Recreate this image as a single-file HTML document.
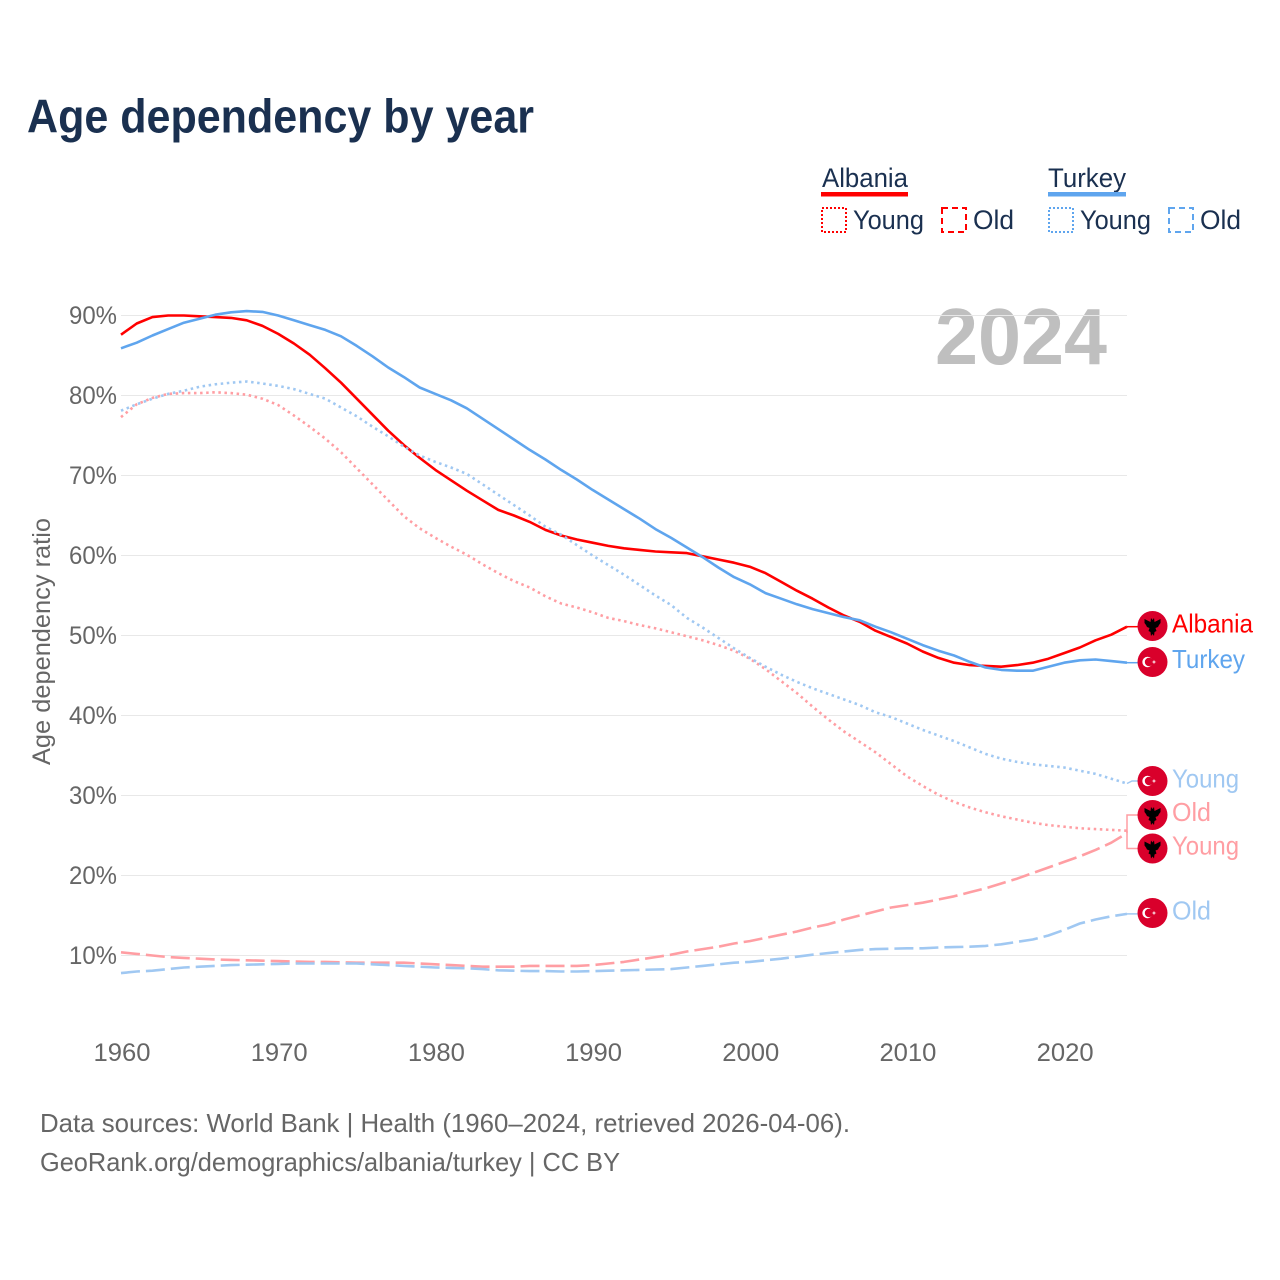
<!DOCTYPE html>
<html lang="en">
<head>
<meta charset="utf-8">
<title>Age dependency by year</title>
<style>
html,body{margin:0;padding:0;background:#fff;width:1280px;height:1280px;overflow:hidden}
svg{display:block}
text{font-family:"Liberation Sans",sans-serif}
</style>
</head>
<body>
<svg id="chart" xmlns="http://www.w3.org/2000/svg" width="1280" height="1280" viewBox="0 0 1280 1280">
  <rect width="1280" height="1280" fill="#fff"/>
  <text x="27" y="132.5" font-size="47" font-weight="700" fill="#1a3050" textLength="507" lengthAdjust="spacingAndGlyphs">Age dependency by year</text>

  <g font-size="27" fill="#1a3050">
    <text x="822" y="187" textLength="86" lengthAdjust="spacingAndGlyphs">Albania</text>
    <rect x="821" y="192" width="87" height="4.5" fill="#ff0000"/>
    <rect x="822" y="208" width="24" height="24" fill="none" stroke="#ff0000" stroke-width="2" stroke-dasharray="2 2"/>
    <text x="853" y="229" textLength="71" lengthAdjust="spacingAndGlyphs">Young</text>
    <rect x="942" y="208" width="24" height="24" fill="none" stroke="#ff0000" stroke-width="2" stroke-dasharray="6 4"/>
    <text x="973" y="229" textLength="41" lengthAdjust="spacingAndGlyphs">Old</text>
    <text x="1048" y="187" textLength="78" lengthAdjust="spacingAndGlyphs">Turkey</text>
    <rect x="1048" y="192" width="78" height="4.5" fill="#5fa5ee"/>
    <rect x="1049" y="208" width="24" height="24" fill="none" stroke="#5fa5ee" stroke-width="2" stroke-dasharray="2 2"/>
    <text x="1080" y="229" textLength="71" lengthAdjust="spacingAndGlyphs">Young</text>
    <rect x="1169" y="208" width="24" height="24" fill="none" stroke="#5fa5ee" stroke-width="2" stroke-dasharray="6 4"/>
    <text x="1200" y="229" textLength="41" lengthAdjust="spacingAndGlyphs">Old</text>
  </g>

  <text x="935" y="364" font-size="80" font-weight="700" fill="#bfbfbf" textLength="172" lengthAdjust="spacingAndGlyphs">2024</text>
  <g id="grid"></g>
  <g id="yticks"></g>
  <g id="xticks"></g>
  <text transform="translate(50,641.5) rotate(-90)" text-anchor="middle" font-size="25" fill="#666" textLength="247" lengthAdjust="spacingAndGlyphs">Age dependency ratio</text>

  <g id="series"></g>
  <g id="connectors"></g>
  <g id="ends"></g>

  <g font-size="26" fill="#666">
    <text x="40" y="1132" textLength="810" lengthAdjust="spacingAndGlyphs">Data sources: World Bank | Health (1960–2024, retrieved 2026-04-06).</text>
    <text x="40" y="1171" textLength="580" lengthAdjust="spacingAndGlyphs">GeoRank.org/demographics/albania/turkey | CC BY</text>
  </g>
</svg>
<script>
const startYear = 1960;
const endYear = 2024;
const yTickValues = [10, 20, 30, 40, 50, 60, 70, 80, 90];
const xTickValues = [1960, 1970, 1980, 1990, 2000, 2010, 2020];

const albaniaTotal = [87.6,89,89.8,90,90,89.9,89.8,89.7,89.4,88.7,87.7,86.5,85.1,83.4,81.6,79.6,77.6,75.6,73.8,72.2,70.7,69.4,68.1,66.9,65.7,65,64.2,63.2,62.5,62,61.6,61.2,60.9,60.7,60.5,60.4,60.3,59.9,59.5,59.1,58.6,57.8,56.7,55.6,54.6,53.5,52.5,51.7,50.6,49.8,49,48,47.2,46.6,46.3,46.2,46.1,46.3,46.6,47.1,47.8,48.5,49.4,50.1,51.1];
const turkeyTotal = [85.9,86.6,87.5,88.3,89.1,89.6,90.1,90.4,90.55,90.45,90,89.4,88.8,88.2,87.4,86.2,84.9,83.5,82.3,81,80.2,79.4,78.4,77.1,75.8,74.5,73.2,72,70.7,69.5,68.2,67,65.8,64.6,63.3,62.2,61,59.8,58.5,57.3,56.4,55.3,54.6,53.9,53.3,52.8,52.3,51.9,51.1,50.4,49.6,48.8,48.1,47.5,46.7,46,45.7,45.6,45.6,46.1,46.6,46.9,47,46.8,46.6];
const albaniaYoung = [77.3,78.9,79.7,80.2,80.3,80.3,80.4,80.3,80.1,79.6,78.8,77.5,76.1,74.6,72.9,70.9,68.9,66.9,64.9,63.4,62.2,61.1,60.1,58.9,57.8,56.8,56,54.9,54,53.5,52.9,52.2,51.8,51.3,50.9,50.4,49.9,49.4,48.8,48.1,47.1,45.8,44.3,42.8,41.1,39.5,38,36.7,35.4,33.9,32.4,31.2,30.1,29.2,28.5,27.9,27.4,27,26.6,26.3,26.1,25.9,25.8,25.7,25.6];
const albaniaOld = [10.4,10.2,10,9.8,9.7,9.6,9.5,9.45,9.4,9.35,9.3,9.25,9.2,9.2,9.15,9.1,9.1,9.1,9.1,9,8.9,8.8,8.7,8.6,8.6,8.6,8.7,8.7,8.7,8.7,8.8,9,9.2,9.5,9.8,10.1,10.5,10.8,11.1,11.5,11.8,12.2,12.6,13,13.5,13.9,14.5,15,15.5,16,16.3,16.6,17,17.4,17.9,18.4,19,19.6,20.3,21,21.7,22.4,23.2,24.1,25.3];
const turkeyYoung = [78.1,78.9,79.6,80.2,80.6,81.1,81.4,81.6,81.75,81.5,81.2,80.8,80.2,79.6,78.5,77.4,76.1,74.9,73.6,72.5,71.7,71,70.2,68.9,67.6,66.3,65,63.6,62.6,61.3,60,58.8,57.6,56.3,55,53.8,52.2,51,49.7,48.4,47.2,46.1,45.1,44.2,43.4,42.7,42,41.3,40.4,39.8,39,38.2,37.5,36.8,36,35.2,34.6,34.2,33.9,33.7,33.5,33.1,32.7,32.1,31.5];
const turkeyOld = [7.8,8,8.1,8.3,8.5,8.6,8.7,8.8,8.85,8.9,8.95,9,9,9,9,9,8.9,8.8,8.7,8.6,8.5,8.45,8.4,8.3,8.15,8.1,8.05,8.05,8,8,8.05,8.1,8.15,8.2,8.25,8.3,8.5,8.7,8.9,9.1,9.2,9.4,9.6,9.85,10.1,10.3,10.5,10.7,10.8,10.85,10.9,10.9,11,11.05,11.1,11.2,11.4,11.7,12,12.5,13.2,14,14.5,14.9,15.2];

const NS = 'http://www.w3.org/2000/svg';
const plotLeft = 121, plotRight = 1127;
function xScale(year) { return plotLeft + (year - startYear) * (plotRight - plotLeft) / (endYear - startYear); }
function yScale(v) { return 1035.5 - v * 8; }
function make(tag, parent) { const el = document.createElementNS(NS, tag); document.getElementById(parent).appendChild(el); return el; }

yTickValues.forEach(function (v) {
  const line = make('line', 'grid');
  
  
  line.setAttribute('x1', plotLeft); line.setAttribute('x2', plotRight);
  line.setAttribute('y1', yScale(v)); line.setAttribute('y2', yScale(v));
  line.setAttribute('stroke', '#e8e8e8'); line.setAttribute('stroke-width', '1');
  const t = make('text', 'yticks');
  
  
  t.setAttribute('x', 117); t.setAttribute('y', yScale(v) + 8.5);
  t.setAttribute('text-anchor', 'end'); t.setAttribute('font-size', '25'); t.setAttribute('fill', '#666');
  t.setAttribute('textLength', '48'); t.setAttribute('lengthAdjust', 'spacingAndGlyphs');
  t.textContent = v + '%';
});

xTickValues.forEach(function (yr) {
  const t = make('text', 'xticks');
  
  
  t.setAttribute('x', xScale(yr) + 1); t.setAttribute('y', 1061);
  t.setAttribute('text-anchor', 'middle'); t.setAttribute('font-size', '25'); t.setAttribute('fill', '#666');
  t.setAttribute('textLength', '57'); t.setAttribute('lengthAdjust', 'spacingAndGlyphs');
  t.textContent = yr;
});

function drawLine(values, name, color, width, dash) {
  const p = make('path', 'series');
  
  
  p.setAttribute('d', values.map(function (v, i) { return (i ? 'L' : 'M') + xScale(startYear + i).toFixed(2) + ' ' + yScale(v).toFixed(2); }).join(''));
  p.setAttribute('fill', 'none');
  p.setAttribute('stroke', color);
  p.setAttribute('stroke-width', width);
  p.setAttribute('stroke-linejoin', 'round');
  if (dash) p.setAttribute('stroke-dasharray', dash);
}
drawLine(albaniaTotal, 'line-albania-total', '#ff0000', 2.6, '');
drawLine(albaniaYoung, 'line-albania-young', '#ff9ea3', 2.6, '2.5 3.6');
drawLine(albaniaOld, 'line-albania-old', '#ff9ea3', 2.6, '19 6');
drawLine(turkeyTotal, 'line-turkey-total', '#5fa5ee', 2.6, '');
drawLine(turkeyYoung, 'line-turkey-young', '#a0c8f2', 2.6, '2.5 3.6');
drawLine(turkeyOld, 'line-turkey-old', '#a0c8f2', 2.6, '19 6');

function drawConnector(d, name, color) {
  const p = make('path', 'connectors');
  
  
  p.setAttribute('d', d);
  p.setAttribute('fill', 'none');
  p.setAttribute('stroke', color);
  p.setAttribute('stroke-width', '1.5');
}
function endY(values) { return yScale(values[values.length - 1]); }
drawConnector('M1127 ' + endY(albaniaTotal) + 'H1138', 'connector-albania', '#ff0000');
drawConnector('M1127 ' + endY(turkeyTotal) + 'H1138', 'connector-turkey', '#5fa5ee');
drawConnector('M1127 ' + endY(turkeyYoung) + 'L1132 781H1138', 'connector-turkey-young', '#a0c8f2');
drawConnector('M1127 ' + endY(albaniaOld) + 'V815H1138', 'connector-albania-old', '#ff9ea3');
drawConnector('M1127 ' + endY(albaniaYoung) + 'V848.5H1138', 'connector-albania-young', '#ff9ea3');
drawConnector('M1127 ' + endY(turkeyOld) + 'H1138', 'connector-turkey-old', '#a0c8f2');

function drawFlag(cy, kind, name) {
  const c = make('circle', 'ends');
  
  
  c.setAttribute('cx', 1152.5); c.setAttribute('cy', cy); c.setAttribute('r', 15);
  c.setAttribute('fill', '#d9002b');
  if (kind === 'al') {
    const e = make('path', 'ends');
    
    
    e.setAttribute('transform', 'translate(1152.5 ' + cy + ')');
    e.setAttribute('d', 'M-1.5-8L0-6L1.5-8L2-4L8-7L8-3L6.5-1L5.5 1L3 2L4 5L2 6L1.5 10L0 8L-1.5 10L-2 6L-4 5L-3 2L-5.5 1L-6.5-1L-8-3L-8-7L-2-4Z');
    e.setAttribute('fill', '#000');
  } else {
    const a = make('circle', 'ends');
    
    
    a.setAttribute('cx', 1147.5); a.setAttribute('cy', cy); a.setAttribute('r', 5.2);
    a.setAttribute('fill', '#fff');
    const b = make('circle', 'ends');
    
    
    b.setAttribute('cx', 1149); b.setAttribute('cy', cy); b.setAttribute('r', 4.2);
    b.setAttribute('fill', '#d9002b');
    const s = make('path', 'ends');
    
    
    s.setAttribute('transform', 'translate(1154 ' + cy + ')');
    s.setAttribute('d', 'M-2.4 0L-0.6-0.5L0-2.2L0.6-0.5L2.4 0L0.6 0.5L0 2.2L-0.6 0.5Z');
    s.setAttribute('fill', '#fff');
  }
}
function drawEnd(flagY, baseY, kind, text, len, color, name) {
  drawFlag(flagY, kind, name);
  const t = make('text', 'ends');
  
  
  t.setAttribute('x', 1172); t.setAttribute('y', baseY);
  t.setAttribute('font-size', '26'); t.setAttribute('fill', color);
  t.setAttribute('textLength', len); t.setAttribute('lengthAdjust', 'spacingAndGlyphs');
  t.textContent = text;
}
drawEnd(626, 632.5, 'al', 'Albania', 81, '#ff0000', 'end-albania');
drawEnd(662, 668, 'tr', 'Turkey', 73, '#5fa5ee', 'end-turkey');
drawEnd(781, 787.5, 'tr', 'Young', 67, '#a0c8f2', 'end-turkey-young');
drawEnd(815, 821, 'al', 'Old', 39, '#ff9ea3', 'end-albania-old');
drawEnd(848.5, 854.5, 'al', 'Young', 67, '#ff9ea3', 'end-albania-young');
drawEnd(913, 919.5, 'tr', 'Old', 39, '#a0c8f2', 'end-turkey-old');
</script>
</body>
</html>
